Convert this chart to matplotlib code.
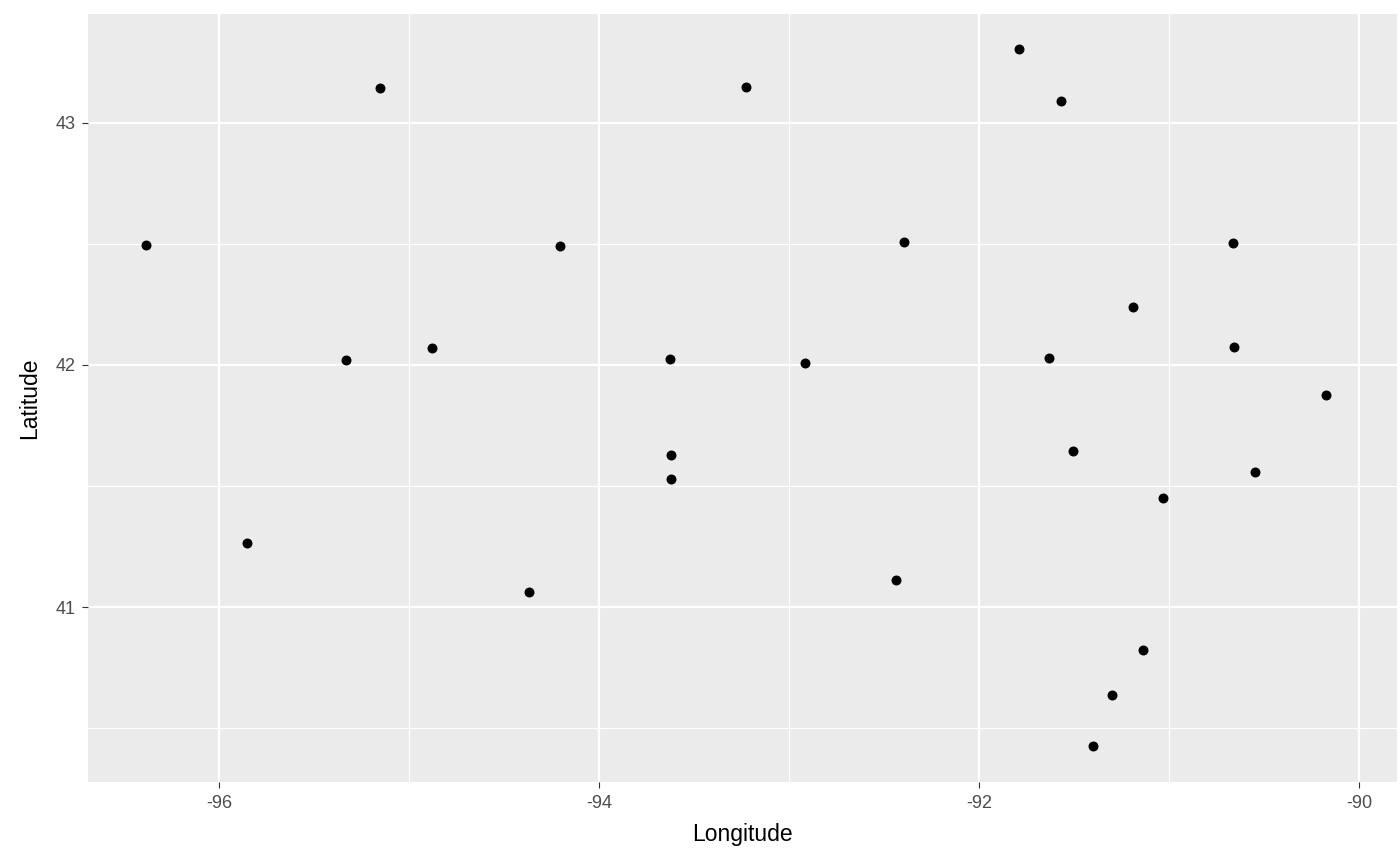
import matplotlib.pyplot as plt

plt.rcParams['axes.unicode_minus'] = False
plt.rcParams['font.family'] = ['Liberation Sans', 'DejaVu Sans']

lon = [-96.384, -95.153, -95.853, -95.332, -94.879, -94.205, -94.368, -93.226,
       -93.626, -93.621, -93.621, -92.916, -92.395, -92.437, -91.789, -91.568,
       -91.632, -91.505, -91.189, -91.032, -90.663, -90.658, -90.547, -90.174,
       -91.137, -91.300, -91.400]
lat = [42.496, 43.145, 41.264, 42.021, 42.070, 42.492, 41.062, 43.149,
       42.025, 41.628, 41.529, 42.008, 42.508, 41.112, 43.306, 43.091,
       42.029, 41.645, 42.240, 41.450, 42.504, 42.074, 41.558, 41.876,
       40.822, 40.636, 40.426]

fig = plt.figure(figsize=(14, 8.66), dpi=100)
ax = fig.add_axes([88/1400, 1 - 782/866, (1397-88)/1400, (782-14)/866])
ax.set_facecolor('#EBEBEB')
for s in ax.spines.values():
    s.set_visible(False)

ax.set_xticks([-96, -94, -92, -90])
ax.set_xticks([-95, -93, -91], minor=True)
ax.set_yticks([41, 42, 43])
ax.set_yticks([40.5, 41.5, 42.5], minor=True)
ax.grid(True, which='major', color='white', lw=1.6)
ax.grid(True, which='minor', color='white', lw=0.8)
ax.set_axisbelow(True)
ax.tick_params(which='major', length=4, color='#333333', labelsize=13, labelcolor='#4D4D4D', pad=5)
ax.tick_params(which='minor', length=0)

ax.scatter(lon, lat, s=38, color='black', zorder=3)

ax.set_xlim(-96.689, -89.8)
ax.set_ylim(40.277, 43.45)
ax.set_xlabel('Longitude', fontsize=16.5, labelpad=8)
ax.set_ylabel('Latitude', fontsize=16.5, labelpad=10)

fig.savefig('out.png', dpi=100)
